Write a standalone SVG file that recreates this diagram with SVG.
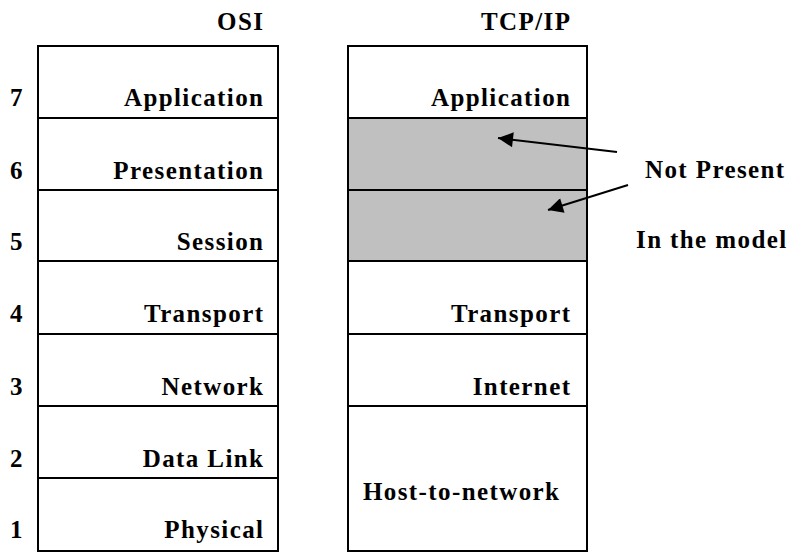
<svg xmlns="http://www.w3.org/2000/svg" width="787" height="552" viewBox="0 0 787 552">
<defs>
<style>
text{font-weight:bold;font-size:25px;letter-spacing:1.4px;fill:#000}
.r{text-anchor:end}
.box{fill:#fff;stroke:#000;stroke-width:2}
.gray{fill:#c0c0c0;stroke:#000;stroke-width:2}
.conn{stroke:#000;stroke-width:2;fill:none}
</style>
<marker id="ah" viewBox="0 0 10 10" refX="10" refY="5" markerWidth="8" markerHeight="7.5" orient="auto" markerUnits="strokeWidth">
<path d="M0,0 L10,5 L0,10 z" fill="#000"/>
</marker>
</defs>
<rect width="787" height="552" fill="#fff"/>
<g font-family="'Liberation Serif', 'Times New Roman', Times, serif">
<text x="264.4" y="30" class="r">OSI</text>
<text x="571.4" y="30" class="r">TCP/IP</text>
<g id="osi">
<g id="osi7"><rect class="box" x="38" y="46" width="240" height="72"/><text x="10" y="106">7</text><text x="264.4" y="106" class="r">Application</text></g>
<g id="osi6"><rect class="box" x="38" y="118" width="240" height="72"/><text x="10" y="179">6</text><text x="264.4" y="179" class="r">Presentation</text></g>
<g id="osi5"><rect class="box" x="38" y="190" width="240" height="71"/><text x="10" y="250">5</text><text x="264.4" y="250" class="r">Session</text></g>
<g id="osi4"><rect class="box" x="38" y="261" width="240" height="73"/><text x="10" y="322">4</text><text x="264.4" y="322" class="r">Transport</text></g>
<g id="osi3"><rect class="box" x="38" y="334" width="240" height="72"/><text x="10" y="395">3</text><text x="264.4" y="395" class="r">Network</text></g>
<g id="osi2"><rect class="box" x="38" y="406" width="240" height="72"/><text x="10" y="467">2</text><text x="264.4" y="467" class="r">Data Link</text></g>
<g id="osi1"><rect class="box" x="38" y="478" width="240" height="73"/><text x="10" y="538">1</text><text x="264.4" y="538" class="r">Physical</text></g>
</g>
<g id="tcpip">
<g id="tcp-app"><rect class="box" x="348" y="46" width="239" height="72"/><text x="571.4" y="106" class="r">Application</text></g>
<g id="tcp-np1"><rect class="gray" x="348" y="118" width="239" height="72"/></g>
<g id="tcp-np2"><rect class="gray" x="348" y="190" width="239" height="71"/></g>
<g id="tcp-transport"><rect class="box" x="348" y="261" width="239" height="73"/><text x="571.4" y="322" class="r">Transport</text></g>
<g id="tcp-internet"><rect class="box" x="348" y="334" width="239" height="72"/><text x="571.4" y="395" class="r">Internet</text></g>
<g id="tcp-host"><rect class="box" x="348" y="406" width="239" height="145"/><text x="363" y="500">Host-to-network</text></g>
</g>
<g id="note"><text x="645" y="178">Not Present</text><text x="636" y="248">In the model</text></g>
</g>
<g id="connectors">
<line class="conn" x1="617" y1="152" x2="498" y2="138" marker-end="url(#ah)"/>
<line class="conn" x1="628" y1="185" x2="548" y2="210" marker-end="url(#ah)"/>
</g>
</svg>
